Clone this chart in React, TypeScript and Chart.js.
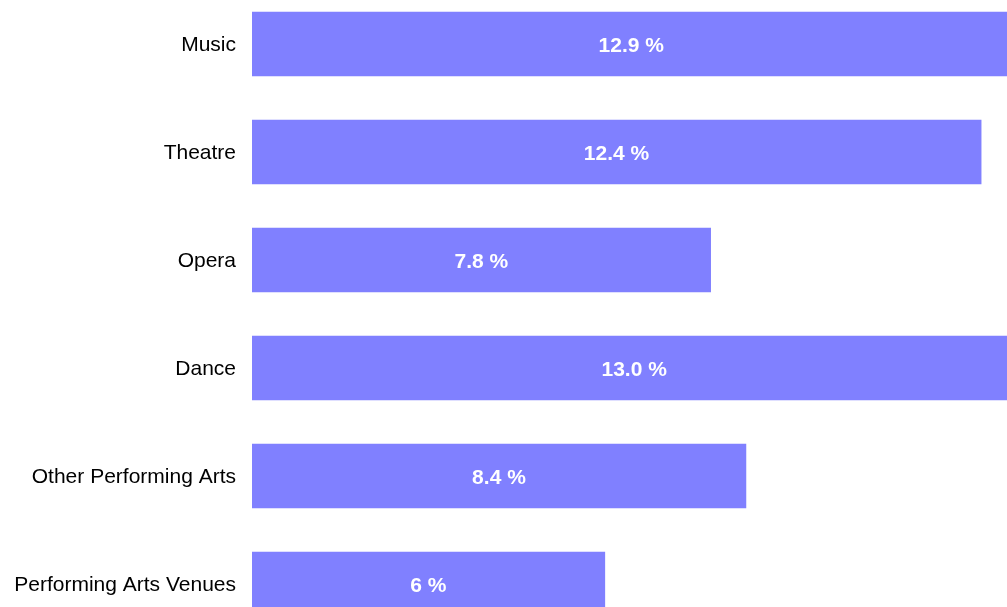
import React, { useEffect, useRef } from "react";
import { Chart, registerables } from "chart.js";

Chart.register(...registerables);

const categories = [
  "Music",
  "Theatre",
  "Opera",
  "Dance",
  "Other Performing Arts",
  "Performing Arts Venues",
];
const values = [12.9, 12.4, 7.8, 13.0, 8.4, 6.0];
const valueLabels = ["12.9 %", "12.4 %", "7.8 %", "13.0 %", "8.4 %", "6 %"];

const FONT = "'Liberation Sans', Arial, sans-serif";

const valueLabelPlugin = {
  id: "valueLabels",
  afterDatasetsDraw(chart: any) {
    const ctx = chart.ctx;
    const meta = chart.getDatasetMeta(0);
    ctx.save();
    ctx.fillStyle = "#ffffff";
    ctx.font = `bold 21px ${FONT}`;
    ctx.textAlign = "center";
    ctx.textBaseline = "alphabetic";
    meta.data.forEach((bar: any, i: number) => {
      const cx = (bar.base + bar.x) / 2;
      ctx.fillText(valueLabels[i], cx, bar.y + 8);
    });
    ctx.restore();
  },
};

export default function App() {
  const ref = useRef<HTMLCanvasElement>(null);
  useEffect(() => {
    if (!ref.current) return;
    const chart = new Chart(ref.current, {
      type: "bar",
      data: {
        labels: categories,
        datasets: [
          {
            data: values,
            backgroundColor: "#8080ff",
            borderWidth: 0,
            barThickness: 64,
          },
        ],
      },
      options: {
        indexAxis: "y",
        animation: false,
        responsive: false,
        maintainAspectRatio: false,
        layout: { padding: 0 },
        plugins: { legend: { display: false }, tooltip: { enabled: false } },
        scales: {
          x: {
            display: false,
            min: 0,
            max: 12.84,
          },
          y: {
            grid: { display: false, drawTicks: false },
            border: { display: false },
            ticks: {
              color: "#000000",
              font: { family: FONT, size: 21 },
              padding: 16,
              labelOffset: 1,
            },
            afterFit(scale: any) {
              scale.width = 252;
              scale.paddingTop = 0;
              scale.paddingBottom = 0;
            },
          },
        },
      },
      plugins: [valueLabelPlugin],
    });
    return () => chart.destroy();
  }, []);
  return (
    <div style={{ position: "fixed", left: 0, top: -10, width: 1007, height: 648 }}>
      <canvas ref={ref} width={1007} height={648} style={{ width: 1007, height: 648 }} />
    </div>
  );
}
